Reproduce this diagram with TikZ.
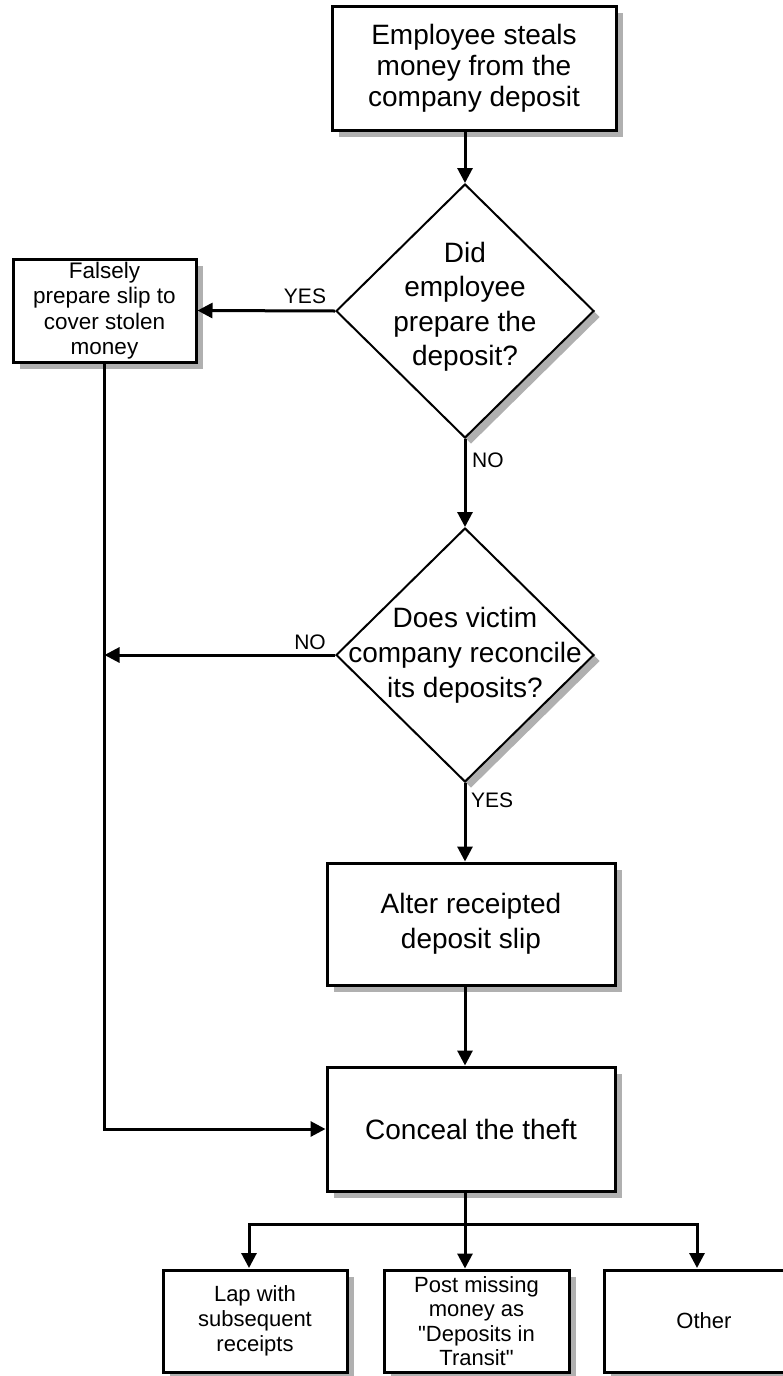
\documentclass[tikz,border=0pt]{standalone}
\usepackage{fontspec}
\setmainfont{Liberation Sans}
\newfontfamily\rawquotefont{Liberation Sans}[Ligatures=TeXOff]
\usetikzlibrary{shapes.geometric,shadows,arrows.meta}
\newcommand{\dq}{{\rawquotefont\char34}}
\begin{document}
\begin{tikzpicture}[x=1pt,y=-1pt,
  shadowgray/.style={fill=black!31,opacity=1,draw=none},
  procbox/.style={draw,line width=3pt,fill=white,inner sep=0pt,align=center,
    drop shadow={shadow xshift=7pt,shadow yshift=-7pt,shadowgray}},
  decision/.style={diamond,draw,line width=2pt,fill=white,inner sep=0pt,
    minimum width=258pt,minimum height=254pt,
    drop shadow={shadow xshift=6pt,shadow yshift=-6pt,shadowgray}},
  bigtxt/.style={align=center,inner sep=0pt},
  flow/.style={line width=3pt,-{Triangle[width=15pt,length=15pt]}},
  plain/.style={line width=3pt},
  tag/.style={font=\fontsize{21}{23}\selectfont,inner sep=0pt}
]
\useasboundingbox (0,0) rectangle (783,1376);

% process boxes
\node[procbox,minimum width=284pt,minimum height=124pt,
  font=\fontsize{28}{31}\selectfont] (steal) at (474,68)
  {Employee steals\\money from the\\company deposit};
\node[procbox,minimum width=183pt,minimum height=103pt,
  font=\fontsize{22.5}{25.5}\selectfont] (falsely) at (104.5,310.5)
  {Falsely\\prepare slip to\\cover stolen\\money};
\node[procbox,minimum width=288pt,minimum height=122pt,
  font=\fontsize{28}{35}\selectfont] (alter) at (471,924)
  {Alter receipted\\deposit slip};
\node[procbox,minimum width=288pt,minimum height=124pt,
  font=\fontsize{28}{31}\selectfont] (conceal) at (471,1129)
  {Conceal the theft};
\node[procbox,minimum width=184pt,minimum height=102pt,
  font=\fontsize{22}{25}\selectfont] (lap) at (255,1321)
  {Lap with\\subsequent\\receipts};
\node[procbox,minimum width=185pt,minimum height=102pt,
  font=\fontsize{22}{24.5}\selectfont] (post) at (476.5,1321)
  {Post missing\\money as\\\dq Deposits in\\Transit\dq};
\node[procbox,minimum width=206pt,minimum height=102pt] (other) at (707,1321) {};
\node[bigtxt,font=\fontsize{22}{25}\selectfont] (othertxt) at (704,1321) {Other};

% decisions
\node[decision] (d1) at (465,311) {};
\node[bigtxt,font=\fontsize{28}{34.5}\selectfont] (d1txt) at (465,307)
  {Did\\employee\\prepare the\\deposit?};
\node[decision] (d2) at (465,655) {};
\node[bigtxt,font=\fontsize{28}{35}\selectfont] (d2txt) at (465,655)
  {Does victim\\company reconcile\\its deposits?};

% junction points
\coordinate (merge) at (falsely.south |- d2.west);
\coordinate (fork) at (465,1224);
\coordinate (lapin) at (249,1268);
\coordinate (otherin) at (697,1268);

% connectors
\draw[flow] (d1.north |- steal.south) -- (d1.north);
\draw[flow] (d1.west) -- (falsely.east);
\draw[flow] (d1.south) -- (d2.north);
\draw[flow] (d2.west) -- (merge);
\draw[flow] (falsely.south) |- (conceal.west);
\draw[flow] (d2.south) -- (d2.south |- alter.north);
\draw[flow] (d2.south |- alter.south) -- (d2.south |- conceal.north);
\draw[plain] (fork |- conceal.south) -- (fork);
\draw[flow] (fork) -- (fork |- post.north);
\draw[flow] (fork) -| (lapin);
\draw[flow] (fork) -| (otherin);

% branch labels
\node[tag] (yes1) at (305,296) {YES};
\node[tag,anchor=west] (no1) at (472,460) {NO};
\node[tag] (no2) at (310,642) {NO};
\node[tag,anchor=west] (yes2) at (471,800) {YES};
\end{tikzpicture}
\end{document}
